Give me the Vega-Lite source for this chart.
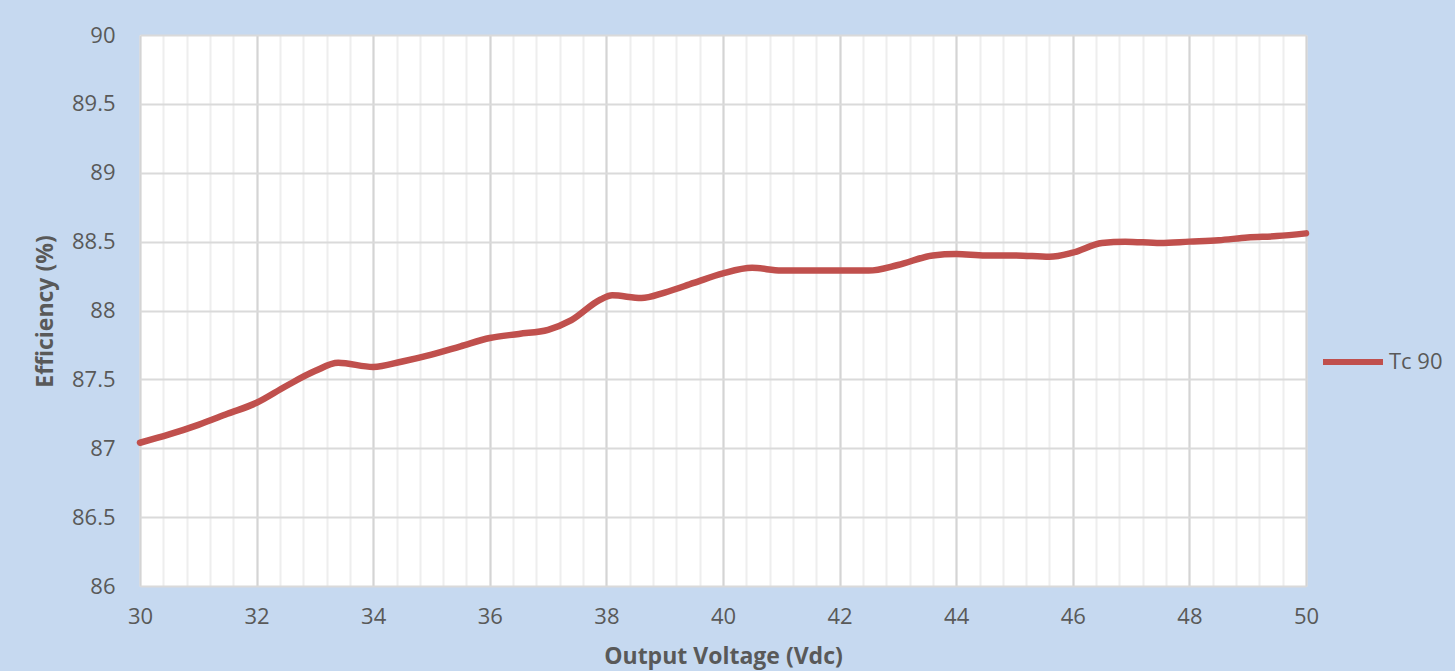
{
  "$schema": "https://vega.github.io/schema/vega-lite/v6.json",
  "width": 1166,
  "height": 551,
  "autosize": {"type": "none"},
  "padding": {"left": 140, "top": 35, "right": 149, "bottom": 85},
  "background": "#c6d9f0",
  "config": {
    "view": {"fill": "white", "stroke": null},
    "font": "Open Sans",
    "axis": {"labelFont": "Open Sans", "titleFont": "Open Sans", "labelColor": "#595959", "titleColor": "#595959"}
  },
  "data": {
    "values": [
      {"v": 30, "eff": 87.04, "series": "Tc 90"},
      {"v": 30.5, "eff": 87.10, "series": "Tc 90"},
      {"v": 31, "eff": 87.17, "series": "Tc 90"},
      {"v": 31.5, "eff": 87.25, "series": "Tc 90"},
      {"v": 32, "eff": 87.33, "series": "Tc 90"},
      {"v": 32.5, "eff": 87.45, "series": "Tc 90"},
      {"v": 33, "eff": 87.56, "series": "Tc 90"},
      {"v": 33.4, "eff": 87.62, "series": "Tc 90"},
      {"v": 34, "eff": 87.59, "series": "Tc 90"},
      {"v": 34.5, "eff": 87.63, "series": "Tc 90"},
      {"v": 35, "eff": 87.68, "series": "Tc 90"},
      {"v": 35.5, "eff": 87.74, "series": "Tc 90"},
      {"v": 36, "eff": 87.80, "series": "Tc 90"},
      {"v": 36.5, "eff": 87.83, "series": "Tc 90"},
      {"v": 37, "eff": 87.86, "series": "Tc 90"},
      {"v": 37.4, "eff": 87.93, "series": "Tc 90"},
      {"v": 37.9, "eff": 88.08, "series": "Tc 90"},
      {"v": 38.1, "eff": 88.11, "series": "Tc 90"},
      {"v": 38.6, "eff": 88.09, "series": "Tc 90"},
      {"v": 39, "eff": 88.13, "series": "Tc 90"},
      {"v": 39.5, "eff": 88.20, "series": "Tc 90"},
      {"v": 40, "eff": 88.27, "series": "Tc 90"},
      {"v": 40.5, "eff": 88.31, "series": "Tc 90"},
      {"v": 41, "eff": 88.29, "series": "Tc 90"},
      {"v": 41.5, "eff": 88.29, "series": "Tc 90"},
      {"v": 42, "eff": 88.29, "series": "Tc 90"},
      {"v": 42.5, "eff": 88.29, "series": "Tc 90"},
      {"v": 43, "eff": 88.33, "series": "Tc 90"},
      {"v": 43.6, "eff": 88.40, "series": "Tc 90"},
      {"v": 44, "eff": 88.41, "series": "Tc 90"},
      {"v": 44.5, "eff": 88.40, "series": "Tc 90"},
      {"v": 45, "eff": 88.40, "series": "Tc 90"},
      {"v": 45.6, "eff": 88.39, "series": "Tc 90"},
      {"v": 46, "eff": 88.42, "series": "Tc 90"},
      {"v": 46.5, "eff": 88.49, "series": "Tc 90"},
      {"v": 46.9, "eff": 88.50, "series": "Tc 90"},
      {"v": 47.5, "eff": 88.49, "series": "Tc 90"},
      {"v": 48, "eff": 88.50, "series": "Tc 90"},
      {"v": 48.5, "eff": 88.51, "series": "Tc 90"},
      {"v": 49, "eff": 88.53, "series": "Tc 90"},
      {"v": 49.5, "eff": 88.54, "series": "Tc 90"},
      {"v": 50, "eff": 88.56, "series": "Tc 90"}
    ]
  },
  "layer": [
    {
      "mark": {"type": "line", "strokeOpacity": 0},
      "encoding": {
        "x": {
          "field": "v", "type": "quantitative",
          "scale": {"domain": [30, 50], "nice": false, "zero": false},
          "axis": {
            "orient": "bottom",
            "values": [30, 30.4, 30.8, 31.2, 31.6, 32, 32.4, 32.8, 33.2, 33.6, 34, 34.4, 34.8, 35.2, 35.6, 36, 36.4, 36.8, 37.2, 37.6, 38, 38.4, 38.8, 39.2, 39.6, 40, 40.4, 40.8, 41.2, 41.6, 42, 42.4, 42.8, 43.2, 43.6, 44, 44.4, 44.8, 45.2, 45.6, 46, 46.4, 46.8, 47.2, 47.6, 48, 48.4, 48.8, 49.2, 49.6, 50],
            "grid": true, "gridColor": "#eeeeee", "gridWidth": 2,
            "labels": false, "ticks": false, "domain": false, "title": null
          }
        },
        "y": {
          "field": "eff", "type": "quantitative",
          "scale": {"domain": [86, 90], "nice": false, "zero": false},
          "axis": {
            "values": [86, 86.5, 87, 87.5, 88, 88.5, 89, 89.5, 90],
            "format": "~g",
            "grid": true, "gridColor": "#dadada", "gridWidth": 2,
            "ticks": false, "domain": false, "labelFlush": false,
            "labelFontSize": 22, "labelPadding": 25,
            "title": "Efficiency (%)", "titleFontSize": 23, "titleFontWeight": "bold",
            "titleX": -95, "titleY": 276, "titleAngle": -90, "titleBaseline": "middle", "titleAlign": "center"
          }
        }
      }
    },
    {
      "mark": {"type": "line", "interpolate": "monotone", "strokeWidth": 6.5, "strokeCap": "round"},
      "encoding": {
        "x": {
          "field": "v", "type": "quantitative",
          "scale": {"domain": [30, 50], "nice": false, "zero": false},
          "axis": {
            "orient": "bottom",
            "values": [30, 32, 34, 36, 38, 40, 42, 44, 46, 48, 50],
            "grid": true, "gridColor": "#d4d4d4", "gridWidth": 2,
            "ticks": false, "domain": false, "labelFlush": false,
            "labelFontSize": 22, "labelPadding": 20,
            "title": "Output Voltage (Vdc)", "titleFontSize": 23, "titleFontWeight": "bold",
            "titleX": 583, "titleY": 70, "titleBaseline": "middle"
          }
        },
        "y": {"field": "eff", "type": "quantitative"},
        "color": {
          "field": "series", "type": "nominal",
          "scale": {"range": ["#c0504d"]},
          "legend": {
            "orient": "none", "legendX": 1180, "legendY": 294,
            "title": null, "symbolType": "stroke", "symbolSize": 3600,
            "symbolStrokeWidth": 6, "labelFontSize": 22, "labelColor": "#595959",
            "labelFont": "Open Sans", "labelOffset": 3
          }
        }
      }
    }
  ],
  "resolve": {"axis": {"x": "independent"}}
}
